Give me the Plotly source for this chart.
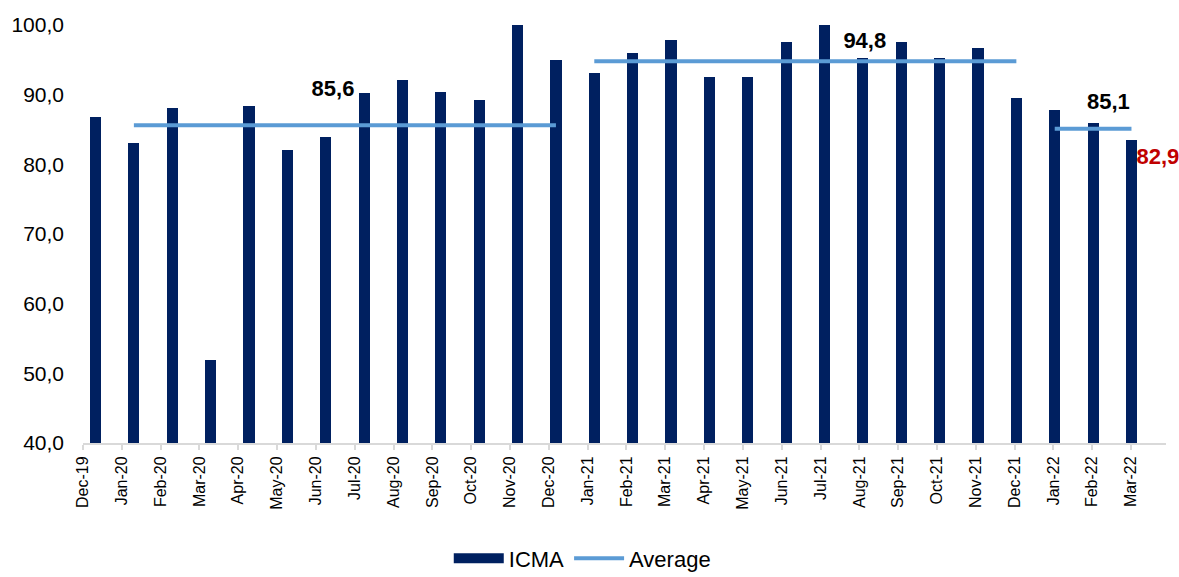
import plotly.graph_objects as go

months = ["Dec-19", "Jan-20", "Feb-20", "Mar-20", "Apr-20", "May-20", "Jun-20", "Jul-20",
          "Aug-20", "Sep-20", "Oct-20", "Nov-20", "Dec-20", "Jan-21", "Feb-21", "Mar-21",
          "Apr-21", "May-21", "Jun-21", "Jul-21", "Aug-21", "Sep-21", "Oct-21", "Nov-21",
          "Dec-21", "Jan-22", "Feb-22", "Mar-22"]
icma = [86.8, 83.1, 88.1, 51.9, 88.4, 82.0, 83.9, 90.2, 92.1, 90.4, 89.2, 100.0, 95.0,
        93.1, 96.0, 97.9, 92.5, 92.5, 97.6, 100.0, 95.2, 97.6, 95.3, 96.7, 89.5,
        87.8, 85.9, 83.5]
# yearly averages: (first month, last month, value)
avg_periods = [("Jan-20", "Dec-20", 85.6), ("Jan-21", "Dec-21", 94.8), ("Jan-22", "Mar-22", 85.1)]
avg_labels = ["85,6", "94,8", "85,1"]
last_label = "82,9"

NAVY = "#002060"
LIGHT = "#5B9BD5"
FONT = "Liberation Sans, Arial, sans-serif"

idx = list(range(len(months)))

avg_x, avg_y = [], []
for a, b, v in avg_periods:
    avg_x += [months.index(a), months.index(b), None]
    avg_y += [v, v, None]

fig = go.Figure()
fig.add_trace(go.Bar(x=idx, y=icma, name="ICMA", marker=dict(color=NAVY, line=dict(width=0)),
                     width=0.29, xaxis="x", yaxis="y", showlegend=False))
# legend swatch for ICMA (wide block like the reference)
fig.add_trace(go.Scatter(x=[None], y=[None], name="ICMA", mode="lines",
                         line=dict(color=NAVY, width=14), xaxis="x", yaxis="y"))
fig.add_trace(go.Scatter(x=avg_x, y=avg_y, name="Average", mode="lines",
                         line=dict(color=LIGHT, width=4), xaxis="x", yaxis="y"))
# carrier trace for the category-label axis
fig.add_trace(go.Scatter(x=idx, y=[None] * len(idx), xaxis="x2", yaxis="y", mode="lines",
                         showlegend=False, hoverinfo="skip", line=dict(width=0)))

# value labels (text traces so they are not pushed inward near the edge)
lbl_x = [6.19, 20.05, 26.4, 27.69]
lbl_y = [90.6, 97.5, 88.8, 80.9]
lbl_txt = ["<b>%s</b>" % t for t in avg_labels + [last_label]]
lbl_col = ["#000000", "#000000", "#000000", "#C00000"]
fig.add_trace(go.Scatter(x=lbl_x, y=lbl_y, mode="text", text=lbl_txt, textposition="middle center",
                         textfont=dict(family=FONT, size=22, color=lbl_col), cliponaxis=False,
                         showlegend=False, hoverinfo="skip", xaxis="x", yaxis="y"))

fig.update_layout(
    width=1179, height=577,
    margin=dict(l=83, r=13, t=25, b=134, autoexpand=False),
    paper_bgcolor="white", plot_bgcolor="white",
    separators=",.",
    bargap=0,
    font=dict(family=FONT, color="#000000"),
    xaxis=dict(range=[-0.326, 27.9], showticklabels=False, showline=False, showgrid=False,
               zeroline=False, ticks=""),
    xaxis2=dict(overlaying="x", anchor="y", side="bottom", range=[0, 27.9],
                tickmode="array", tickvals=idx, ticktext=months, tickangle=-90,
                tickfont=dict(family=FONT, size=16, color="#000000"),
                showline=True, linecolor="#D9D9D9", linewidth=2,
                ticks="outside", ticklen=5, tickcolor="#D9D9D9", tickwidth=1.5,
                showgrid=False, zeroline=False),
    yaxis=dict(range=[40, 100], dtick=10, tickformat=".1f", showgrid=False, zeroline=False,
               showline=False, ticks="", ticklabelstandoff=18,
               tickfont=dict(family=FONT, size=21, color="#000000")),
    legend=dict(orientation="h", x=0.461, xanchor="center", y=-0.226, yanchor="top",
                font=dict(family=FONT, size=22, color="#000000"), itemwidth=50,
                bgcolor="rgba(0,0,0,0)"),
)

fig.write_html("out.html", config={"displayModeBar": False},
               post_script="document.body.style.margin='0px';")
